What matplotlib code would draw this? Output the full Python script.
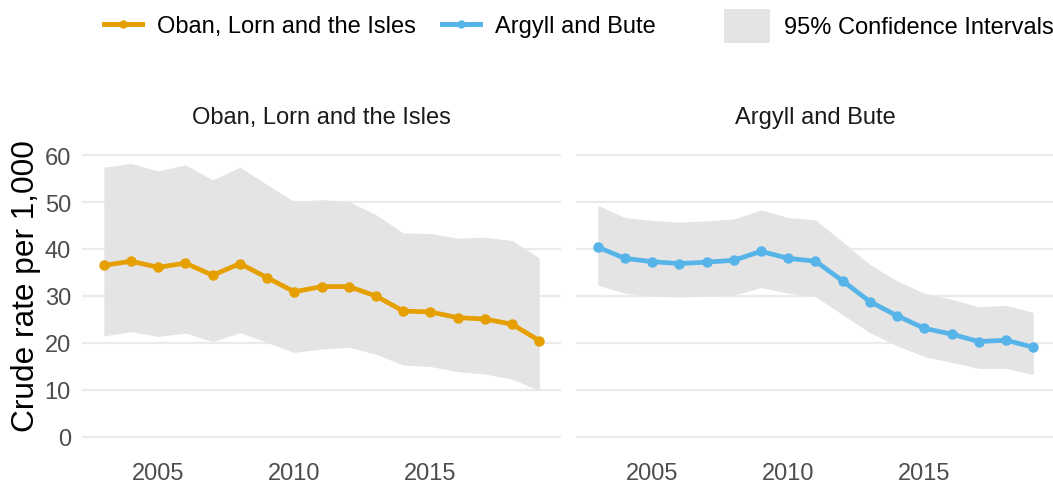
import matplotlib.pyplot as plt
from matplotlib.lines import Line2D
from matplotlib.patches import Patch

plt.rcParams['font.family'] = ['Liberation Sans', 'DejaVu Sans']

years = list(range(2003, 2020))

# Oban, Lorn and the Isles
oban_rate = [36.5, 37.4, 36.1, 37.0, 34.4, 36.9, 33.9, 30.9, 32.0, 32.0,
             30.0, 26.8, 26.6, 25.4, 25.1, 24.0, 20.5]
oban_upper = [57.4, 58.2, 56.6, 57.9, 54.7, 57.4, 53.7, 50.1, 50.5, 50.1,
              47.3, 43.4, 43.3, 42.3, 42.5, 41.8, 38.1]
oban_lower = [21.5, 22.4, 21.4, 22.1, 20.3, 22.2, 20.1, 18.0, 18.7, 19.1,
              17.6, 15.3, 15.0, 13.9, 13.4, 12.3, 9.9]

# Argyll and Bute
ab_rate = [40.4, 38.0, 37.3, 36.9, 37.2, 37.6, 39.5, 38.0, 37.4, 33.2,
           28.8, 25.8, 23.1, 21.9, 20.3, 20.6, 19.1]
ab_upper = [49.3, 46.7, 46.1, 45.7, 46.0, 46.4, 48.3, 46.7, 46.2, 41.5,
            36.7, 33.2, 30.6, 29.3, 27.7, 28.0, 26.5]
ab_lower = [32.3, 30.6, 30.0, 29.8, 30.0, 30.2, 31.8, 30.6, 29.9, 26.0,
            22.2, 19.4, 17.1, 15.9, 14.6, 14.6, 13.3]

panels = [
    ("Oban, Lorn and the Isles", oban_rate, oban_lower, oban_upper, "#E69F00"),
    ("Argyll and Bute", ab_rate, ab_lower, ab_upper, "#56B4E9"),
]

ci_color = "#e4e4e4"
tick_color = "#4d4d4d"
fs = 17

fig = plt.figure(figsize=(10.53, 4.89), dpi=100)
lefts = [0.0779, 0.547]

for i, (title, rate, lo, hi, col) in enumerate(panels):
    ax = fig.add_axes([lefts[i], 0.0755, 0.4549, 0.6343])
    ax.fill_between(years, lo, hi, color=ci_color, linewidth=0, zorder=1)
    ax.plot(years, rate, color=col, linewidth=3.4, marker='o', markersize=6.5, zorder=3)
    ax.set_xlim(2002.2, 2019.8)
    ax.set_ylim(-3, 63)
    ax.set_yticks([0, 10, 20, 30, 40, 50, 60])
    ax.set_xticks([2005, 2010, 2015])
    ax.grid(axis='y', color='#ebebeb', linewidth=1.6, zorder=0)
    ax.grid(axis='x', visible=False)
    ax.set_axisbelow(True)
    for s in ax.spines.values():
        s.set_visible(False)
    ax.tick_params(length=0, labelsize=fs, labelcolor=tick_color, pad=8)
    ax.set_title(title, fontsize=fs, color='#1a1a1a', pad=13)
    if i == 0:
        ax.set_ylabel("Crude rate per 1,000", fontsize=22.8, color='black')
        ax.yaxis.set_label_coords(-0.086, 0.535)
    else:
        ax.tick_params(labelleft=False)

line_handles = [
    Line2D([], [], color="#E69F00", linewidth=3.6, marker='o', markersize=5),
    Line2D([], [], color="#56B4E9", linewidth=3.6, marker='o', markersize=5),
]
fig.legend(line_handles, ["Oban, Lorn and the Isles", "Argyll and Bute"],
           loc='center left', bbox_to_anchor=(0.099, 0.945), ncol=2,
           frameon=False, fontsize=fs, handlelength=1.6,
           columnspacing=1.1, handletextpad=0.65, borderaxespad=0,
           borderpad=0)
fig.legend([Patch(facecolor=ci_color, edgecolor='none')], ["95% Confidence Intervals"],
           loc='center left', bbox_to_anchor=(0.6876, 0.945),
           frameon=False, fontsize=fs, handlelength=1.95, handleheight=1.86,
           handletextpad=0.6, borderaxespad=0, borderpad=0)

fig.savefig("out.png", dpi=100)
